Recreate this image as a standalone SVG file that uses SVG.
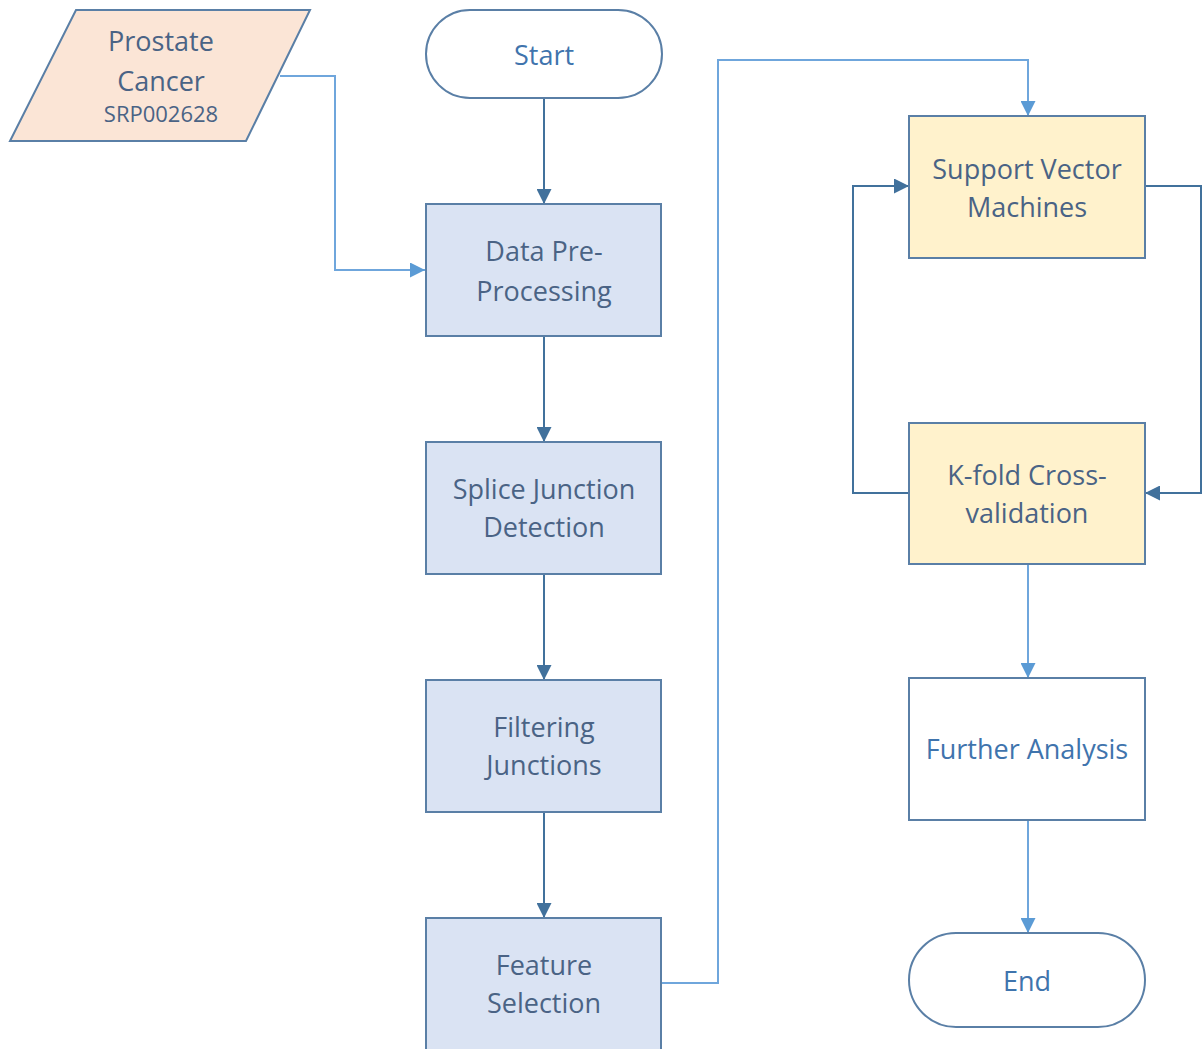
<svg xmlns="http://www.w3.org/2000/svg" width="1204" height="1049" viewBox="0 0 1204 1049">
<defs>
<style>
.t{font-family:"Open Sans","Liberation Sans",sans-serif;font-size:27px;fill:#4a6385;text-anchor:middle;dominant-baseline:central}
.tb{fill:#3f74ad}
.proc{fill:#dae3f3;stroke:#5a7fa6;stroke-width:2}
.ml{fill:#fff2cc;stroke:#5a7fa6;stroke-width:2}
.term{fill:#ffffff;stroke:#5a7fa6;stroke-width:2}
.dk{fill:none;stroke:#41719c;stroke-width:2}
.lt{fill:none;stroke:#6fa6dc;stroke-width:2}
</style>
<marker id="ad" viewBox="0 0 10 10" refX="10" refY="5" markerWidth="16" markerHeight="15" markerUnits="userSpaceOnUse" orient="auto"><path d="M0,0L10,5L0,10z" fill="#41719c"/></marker>
<marker id="al" viewBox="0 0 10 10" refX="10" refY="5" markerWidth="16" markerHeight="15" markerUnits="userSpaceOnUse" orient="auto"><path d="M0,0L10,5L0,10z" fill="#5b9bd5"/></marker>
</defs>
<rect width="1204" height="1049" fill="#ffffff"/>
<g id="connectors">
<path class="lt" d="M280,76H335V270H425" marker-end="url(#al)"/>
<path class="dk" d="M544,98V204" marker-end="url(#ad)"/>
<path class="dk" d="M544,336V442" marker-end="url(#ad)"/>
<path class="dk" d="M544,574V680" marker-end="url(#ad)"/>
<path class="dk" d="M544,812V918" marker-end="url(#ad)"/>
<path class="lt" d="M662,983H718V60H1028V116" marker-end="url(#al)"/>
<path class="dk" d="M1145,186H1201V493H1145" marker-end="url(#ad)"/>
<path class="dk" d="M909,493H853V186H909" marker-end="url(#ad)"/>
<path class="lt" d="M1028,564V678" marker-end="url(#al)"/>
<path class="lt" d="M1028,820V933" marker-end="url(#al)"/>
</g>
<g id="input">
<polygon points="76,10 310,10 246,141 10,141" fill="#fbe5d6" stroke="#5a7fa6" stroke-width="2"/>
<text class="t" x="161" y="40">Prostate</text>
<text class="t" x="161" y="80">Cancer</text>
<text class="t" x="161" y="113" style="font-size:22px">SRP002628</text>
</g>
<g id="start">
<rect class="term" x="426" y="10" width="236" height="88" rx="44"/>
<text class="t tb" x="544" y="54">Start</text>
</g>
<g id="preprocessing">
<rect class="proc" x="426" y="204" width="235" height="132"/>
<text class="t" x="544" y="250">Data Pre-</text>
<text class="t" x="544" y="290">Processing</text>
</g>
<g id="splice">
<rect class="proc" x="426" y="442" width="235" height="132"/>
<text class="t" x="544" y="488">Splice Junction</text>
<text class="t" x="544" y="526">Detection</text>
</g>
<g id="filtering">
<rect class="proc" x="426" y="680" width="235" height="132"/>
<text class="t" x="544" y="726">Filtering</text>
<text class="t" x="544" y="764">Junctions</text>
</g>
<g id="feature">
<rect class="proc" x="426" y="918" width="235" height="140"/>
<text class="t" x="544" y="964">Feature</text>
<text class="t" x="544" y="1002">Selection</text>
</g>
<g id="svm">
<rect class="ml" x="909" y="116" width="236" height="142"/>
<text class="t" x="1027" y="168">Support Vector</text>
<text class="t" x="1027" y="206">Machines</text>
</g>
<g id="kfold">
<rect class="ml" x="909" y="423" width="236" height="141"/>
<text class="t" x="1027" y="474">K-fold Cross-</text>
<text class="t" x="1027" y="512">validation</text>
</g>
<g id="further">
<rect class="term" x="909" y="678" width="236" height="142"/>
<text class="t tb" x="1027" y="748">Further Analysis</text>
</g>
<g id="end">
<rect class="term" x="909" y="933" width="236" height="94" rx="47"/>
<text class="t tb" x="1027" y="980">End</text>
</g>
</svg>
